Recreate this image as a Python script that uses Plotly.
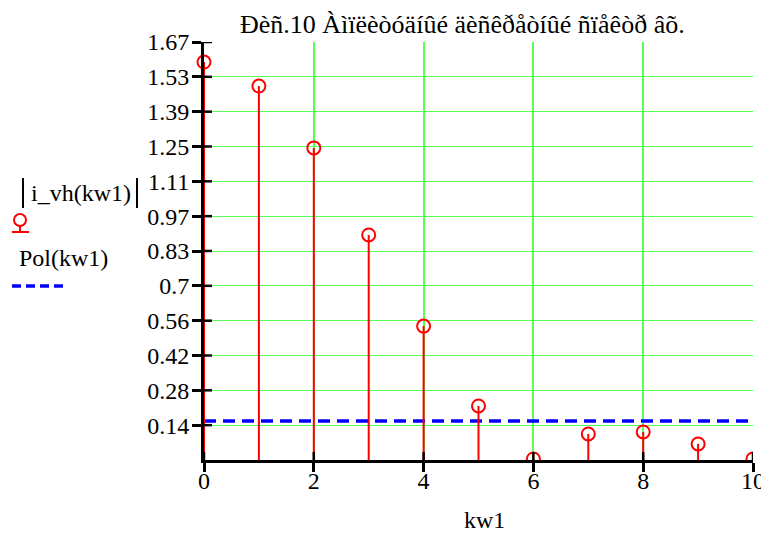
import numpy as np
import plotly.graph_objects as go

# ---- data ----
kw1 = [0, 1, 2, 3, 4, 5, 6, 7, 8, 9, 10]
i_vh_abs = [1.59, 1.494, 1.247, 0.899, 0.535, 0.216, 0.004, 0.104, 0.112, 0.064, 0.004]
pol_kw = [0, 10]
pol_val = [0.156, 0.156]
y_tick_labels = ["0.14", "0.28", "0.42", "0.56", "0.7", "0.83", "0.97", "1.11",
                 "1.25", "1.39", "1.53", "1.67"]
x_tick_labels = ["0", "2", "4", "6", "8", "10"]
title_text = "Ðèñ.10 Àìïëèòóäíûé äèñêðåòíûé ñïåêòð âõ."

# page has an 8px body margin; figure is placed at (8, 8)
OFF = 8
W, H = 769 - OFF, 533 - OFF
PL, PT, PR, PB = 204, 42, 753, 460     # plot area in page pixels
PW, PH = PR - PL, PB - PT
FONT = "Liberation Serif"
FS = 24
RED = "#ff0000"
BLUE = "#0000ff"
GREEN = "#55ff55"


def px(x):
    return (x - PL) / PW


def py(y):
    return (PB - y) / PH


ymax = 1.67
y_tick_vals = list(np.arange(1, 13) * ymax / 12)
x_tick_vals = [0, 2, 4, 6, 8, 10]

# stems
sx, sy = [], []
for k, v in zip(kw1, i_vh_abs):
    sx += [k, k, None]
    sy += [0, v, None]

fig = go.Figure()
fig.add_trace(go.Scatter(x=pol_kw, y=pol_val, mode="lines",
                         line=dict(color=BLUE, width=3.5, dash="12px,7px"),
                         showlegend=False, hoverinfo="skip"))
fig.add_trace(go.Scatter(x=sx, y=sy, mode="lines",
                         line=dict(color=RED, width=2),
                         showlegend=False, hoverinfo="skip"))
fig.add_trace(go.Scatter(x=kw1[1:], y=i_vh_abs[1:], mode="markers",
                         marker=dict(symbol="circle-open", size=13,
                                     color=RED, line=dict(width=2, color=RED)),
                         cliponaxis=True, showlegend=False))
fig.add_trace(go.Scatter(x=kw1[:1], y=i_vh_abs[:1], mode="markers",
                         marker=dict(symbol="circle-open", size=13,
                                     color=RED, line=dict(width=2, color=RED)),
                         cliponaxis=False, showlegend=False))

shapes = []
# inner halves of the crossing ticks
for v in x_tick_vals:
    shapes.append(dict(type="line", xref="x", yref="paper", x0=v, x1=v,
                       y0=0, y1=8 / PH, line=dict(color="black", width=2.5)))
for v in y_tick_vals:
    shapes.append(dict(type="line", xref="paper", yref="y", x0=0, x1=8 / PW,
                       y0=v, y1=v, line=dict(color="black", width=2.5)))
shapes += [
    # |...| bars of the legend label
    dict(type="line", xref="paper", yref="paper",
         x0=px(23), x1=px(23), y0=py(208), y1=py(178),
         line=dict(color="black", width=2)),
    dict(type="line", xref="paper", yref="paper",
         x0=px(137), x1=px(137), y0=py(208), y1=py(178),
         line=dict(color="black", width=2)),
    # stem-marker legend symbol
    dict(type="circle", xref="paper", yref="paper",
         x0=px(14), x1=px(26), y0=py(226), y1=py(214),
         line=dict(color=RED, width=2)),
    dict(type="line", xref="paper", yref="paper",
         x0=px(20), x1=px(20), y0=py(226), y1=py(232),
         line=dict(color=RED, width=2)),
    dict(type="line", xref="paper", yref="paper",
         x0=px(12), x1=px(29), y0=py(232), y1=py(232),
         line=dict(color=RED, width=2)),
    # dashed line legend symbol
    dict(type="line", xref="paper", yref="paper",
         x0=px(12), x1=px(64), y0=py(286), y1=py(286),
         line=dict(color=BLUE, width=3.5, dash="9px,5px")),
]

annotations = [
    dict(text="i_vh(kw1)", xref="paper", yref="paper", x=px(81), y=py(193),
         xanchor="center", yanchor="middle", showarrow=False,
         font=dict(family=FONT, size=FS, color="black")),
    dict(text="Pol(kw1)", xref="paper", yref="paper", x=px(17), y=py(258),
         xanchor="left", yanchor="middle", showarrow=False,
         font=dict(family=FONT, size=FS, color="black")),
    dict(text="kw1", xref="paper", yref="paper", x=px(484), y=py(520),
         xanchor="center", yanchor="middle", showarrow=False,
         font=dict(family=FONT, size=FS, color="black")),
    dict(text=title_text, xref="paper", yref="paper", x=px(462), y=py(OFF + 1),
         xanchor="center", yanchor="top", showarrow=False, borderpad=0,
         font=dict(family=FONT, size=26, color="black")),
]

fig.update_layout(
    template="none",
    width=W, height=H,
    margin=dict(l=PL - OFF, r=W - (PR - OFF), t=PT - OFF, b=H - (PB - OFF),
                pad=0, autoexpand=False),
    paper_bgcolor="white", plot_bgcolor="white",
    font=dict(family=FONT, size=FS, color="black"),
    shapes=shapes, annotations=annotations,
    showlegend=False,
)
fig.update_xaxes(range=[0, 10], tickvals=x_tick_vals, ticktext=x_tick_labels,
                 showgrid=True, gridcolor=GREEN, gridwidth=1.5,
                 showline=True, linecolor="black", linewidth=3,
                 ticks="outside", ticklen=9, tickwidth=2.5, tickcolor="black",
                 ticklabelstandoff=-12,
                 zeroline=False, automargin=False,
                 tickfont=dict(family=FONT, size=FS))
fig.update_yaxes(range=[0, ymax], tickvals=y_tick_vals, ticktext=y_tick_labels,
                 showgrid=True, gridcolor=GREEN, gridwidth=1.2,
                 showline=True, linecolor="black", linewidth=3,
                 ticks="outside", ticklen=9, tickwidth=2.5, tickcolor="black",
                 ticklabelstandoff=-2,
                 zeroline=False, automargin=False,
                 tickfont=dict(family=FONT, size=FS))

fig.write_html("out.html")
